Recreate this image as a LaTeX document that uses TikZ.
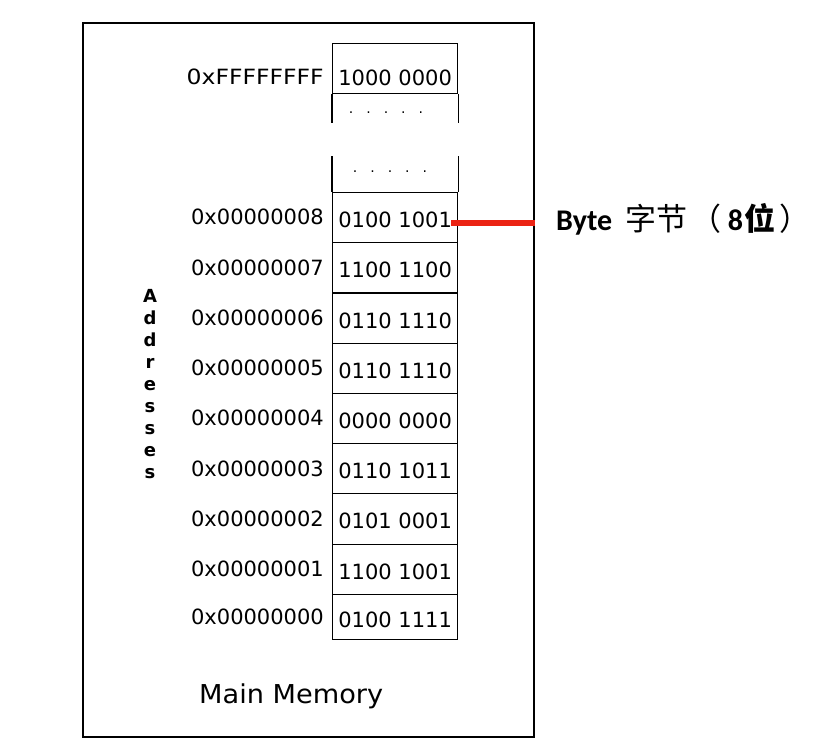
\documentclass[tikz,border=0pt]{standalone}
\usepackage{graphicx}
\usepackage{fontspec}
\setmainfont{DejaVu Sans}
\newfontfamily\cjk{Noto Sans CJK SC}
\newfontfamily\bytefont{Carlito}
\definecolor{linkred}{RGB}{235,35,20}
\begin{document}
\begin{tikzpicture}[x=1pt,y=-1pt,
  frame/.style={draw, line width=1.8pt},
  colline/.style={draw, line width=1.3pt},
  cell/.style={draw, line width=1.3pt, minimum width=125pt, minimum height=50pt,
    inner sep=0pt, text height=20pt, text depth=0pt, anchor=north west,
    font=\fontsize{21}{25}\selectfont},
  addr/.style={anchor=base east, inner sep=0pt, font=\fontsize{21}{25}\selectfont},
  dots/.style={inner sep=0pt, font=\fontsize{14}{16}\selectfont},
  redline/.style={draw=linkred, line width=5.5pt},
]
\useasboundingbox (0,0) rectangle (828,751);
\draw[frame] (83,23) rectangle (534,737);

% top cell
\node[cell, text height=34pt] (cF) at (332,43) {1000 0000};
\node[addr] (aF) at (324,85) {\scalebox{1.12}[1]{0xFFFFFFFF}};
\draw[colline] (cF.south west) -- ++(0,29);
\draw[colline] (cF.south east) -- ++(0,29);
\node[dots] (d1) at (386,113) {.\hspace{13pt}.\hspace{13pt}.\hspace{13pt}.\hspace{13pt}.};

% cells
\foreach \n/\t/\h/\v/\a in {
  8/192/50/0100 1001/0x00000008,
  7/242/50.5/1100 1100/0x00000007,
  6/292.5/50.5/0110 1110/0x00000006,
  5/343/50/0110 1110/0x00000005,
  4/393/50/0000 0000/0x00000004,
  3/443/50/0110 1011/0x00000003,
  2/493/50.5/0101 0001/0x00000002,
  1/543.5/50.5/1100 1001/0x00000001,
  0/594/45/0100 1111/0x00000000}
{
  \node[cell, minimum height=\h pt] (c\n) at (332,\t) {\v};
  \node[addr] (a\n) at (324,\t+\h/2+8) {\a};
}

\draw[colline] (c8.north west) -- ++(0,-36);
\draw[colline] (c8.north east) -- ++(0,-36);
\node[dots] (d2) at (390,172) {.\hspace{13pt}.\hspace{13pt}.\hspace{13pt}.\hspace{13pt}.};

% vertical label
\node[anchor=north, inner sep=0pt, align=center,
  font=\bfseries\fontsize{18}{22}\selectfont] (addrs) at (150,289)
  {A\\d\\d\\r\\e\\s\\s\\e\\s};

\node[anchor=base west, inner sep=0pt, font=\fontsize{26}{30}\selectfont] (mm) at (199,703) {\scalebox{1.045}[1]{Main Memory}};

% byte annotation
\node[anchor=base west, inner sep=0pt] (byte) at (556,231)
  {\fontsize{30}{34}\selectfont{\bytefont\bfseries Byte}\hspace{4pt} {\fontsize{31}{34}\selectfont\cjk 字节}\hspace{3pt}{\fontsize{31}{34}\selectfont\cjk （}\hspace{6pt}{\bytefont\bfseries 8}\hspace{2pt}{\fontsize{31}{34}\selectfont\cjk\bfseries 位}\hspace{4pt}{\fontsize{31}{34}\selectfont\cjk ）}};
\coordinate (rs) at (451,223);
\coordinate (re) at (535,223);
\draw[redline] (rs) -- (re);
\end{tikzpicture}
\end{document}
